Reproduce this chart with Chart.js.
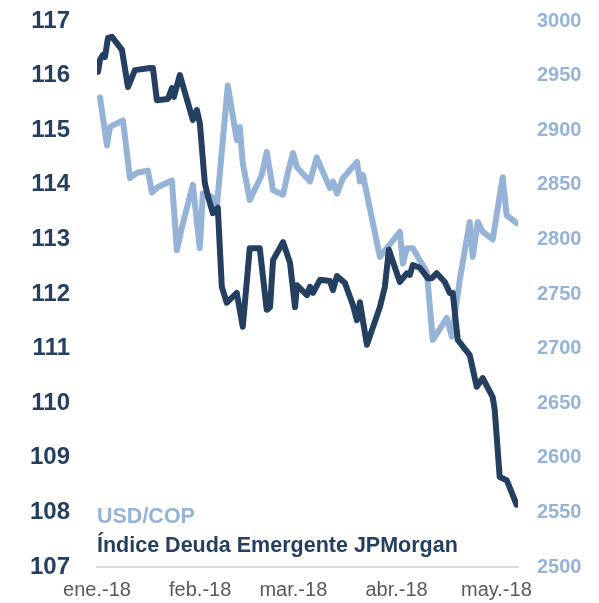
<!DOCTYPE html>
<html lang="es">
<head>
  <meta charset="UTF-8" />
  <title>USD/COP vs JPMorgan</title>
  <script src="https://cdn.jsdelivr.net/npm/chart.js"></script>
  <style>
    html, body { margin: 0; padding: 0; background: #fff; }
    #wrap { width: 599px; height: 603px; }
  </style>
</head>
<body>
  <div id="wrap"><canvas id="chart" width="599" height="603"></canvas></div>

  <script>
    // días desde el 1 de enero de 2018
    const tickDays = [0, 31, 59, 90, 120];
    const tickLabels = ['ene.-18', 'feb.-18', 'mar.-18', 'abr.-18', 'may.-18'];

    const jpmDays = [0.3, 0.9, 1.8, 2.4, 3.3, 4.5, 7.5, 9.3, 11.4, 15.9, 16.8, 18, 21.3, 22.5, 23.1, 24.9,
      28.8, 30, 30.9, 32.4, 33.3, 34.8, 36.3, 37.5, 39, 42, 43.8, 45.9, 48.9, 51, 52, 52.9, 55.9, 58,
      59.5, 60.1, 63.1, 64, 64.9, 67, 70, 70.9, 72.1, 74.5, 76.9, 78.1, 79, 81.1, 85, 86.5, 87.7, 91,
      93.1, 94, 94.9, 97, 99.4, 100.6, 102.1, 104.5, 106, 106.9, 108.4, 112, 114.1, 115.9, 118.9,
      119.5, 121, 123.1, 126.1];
    const jpmValues = [116.07, 116.29, 116.38, 116.34, 116.69, 116.71, 116.47, 115.79, 116.10, 116.14,
      116.14, 115.55, 115.57, 115.77, 115.61, 116.01, 115.19, 115.37, 115.13, 114.03, 113.80, 113.48,
      113.58, 112.13, 111.84, 112.02, 111.40, 112.84, 112.84, 111.71, 111.76, 112.62, 112.95, 112.57,
      111.76, 112.16, 111.98, 112.13, 112.02, 112.26, 112.24, 112.07, 112.33, 112.20, 111.80, 111.52,
      111.85, 111.07, 111.76, 112.13, 112.81, 112.22, 112.38, 112.35, 112.53, 112.48, 112.29, 112.29,
      112.38, 112.22, 112.02, 112.02, 111.16, 110.88, 110.30, 110.46, 110.11, 109.88, 108.65, 108.59,
      108.14];

    const copDays = [0.9, 3, 3.9, 7.8, 9.9, 12, 15.3, 16.5, 18.3, 22.5, 24, 25.5, 28.8, 30.9, 31.8, 34.5,
      36, 39.3, 42, 42.9, 43.8, 45.9, 49.5, 51, 52.9, 55.9, 57.4, 58.9, 60.1, 64, 66, 70, 70.9, 72.1,
      73.9, 78.1, 79, 79.9, 85, 91, 91.9, 93.1, 94.9, 99.1, 100.9, 105.1, 106.6, 109, 112, 112.9,
      114.4, 115.9, 118.9, 121.9, 123.1, 126.1];
    const copValues = [2930, 2886, 2903, 2909, 2856, 2861, 2863, 2843, 2848, 2854, 2790, 2811, 2850, 2792,
      2842, 2839, 2830, 2941, 2891, 2903, 2870, 2836, 2859, 2880, 2845, 2841, 2862, 2879, 2866, 2853,
      2875, 2847, 2853, 2842, 2856, 2871, 2853, 2859, 2784, 2807, 2778, 2792, 2792, 2770, 2708, 2728,
      2711, 2763, 2816, 2784, 2816, 2807, 2800, 2857, 2822, 2815];

    const navy = '#243f60';
    const lightBlue = '#95b3d7';

    const legendText = {
      id: 'legendText',
      afterDatasetsDraw(chart) {
        const ctx = chart.ctx;
        const area = chart.chartArea;
        ctx.save();
        ctx.font = 'bold 21.5px "Liberation Sans", Arial, sans-serif';
        ctx.textBaseline = 'middle';
        ctx.textAlign = 'left';
        ctx.fillStyle = lightBlue;
        ctx.fillText(chart.data.datasets[1].label, area.left, area.bottom - 50);
        ctx.fillStyle = navy;
        ctx.fillText(chart.data.datasets[0].label, area.left, area.bottom - 21);
        ctx.restore();
      }
    };

    // quitar el relleno extra que Chart.js añade por las etiquetas
    function fixWidth(w) {
      return (scale) => {
        scale.width = w;
        scale.paddingTop = 0;
        scale.paddingBottom = 0;
      };
    }

    new Chart(document.getElementById('chart'), {
      type: 'line',
      data: {
        datasets: [
          {
            label: 'Índice Deuda Emergente JPMorgan',
            data: jpmDays.map((d, i) => ({ x: d, y: jpmValues[i] })),
            yAxisID: 'y',
            borderColor: navy,
            borderWidth: 6,
            pointRadius: 0,
            tension: 0,
            borderJoinStyle: 'round',
            borderCapStyle: 'round'
          },
          {
            label: 'USD/COP',
            data: copDays.map((d, i) => ({ x: d, y: copValues[i] })),
            yAxisID: 'y2',
            borderColor: lightBlue,
            borderWidth: 6,
            pointRadius: 0,
            tension: 0,
            borderJoinStyle: 'round',
            borderCapStyle: 'round'
          }
        ]
      },
      options: {
        responsive: false,
        animation: false,
        layout: { padding: { top: 21, left: 0, right: 0, bottom: 0 } },
        plugins: { legend: { display: false }, tooltip: { enabled: false } },
        scales: {
          x: {
            type: 'linear',
            min: 0,
            max: 126.5,
            grid: { display: false, drawTicks: false },
            border: { display: true, color: '#d9d9d9', width: 2 },
            afterBuildTicks: (scale) => { scale.ticks = tickDays.map(v => ({ value: v })); },
            afterFit: (scale) => { scale.height = 36; scale.paddingLeft = 0; scale.paddingRight = 0; },
            ticks: {
              autoSkip: false,
              maxRotation: 0,
              padding: 11,
              color: '#595959',
              font: { family: '"Liberation Sans", Arial, sans-serif', size: 20 },
              callback: (v) => tickLabels[tickDays.indexOf(v)]
            }
          },
          y: {
            position: 'left',
            min: 107,
            max: 117,
            grid: { display: false, drawTicks: false },
            border: { display: false },
            afterFit: fixWidth(97),
            ticks: {
              stepSize: 1,
              padding: 27,
              color: navy,
              font: { family: '"Liberation Sans", Arial, sans-serif', size: 24, weight: 'bold' },
              callback: (v) => String(v)
            }
          },
          y2: {
            position: 'right',
            min: 2500,
            max: 3000,
            grid: { display: false, drawTicks: false },
            border: { display: false },
            afterFit: fixWidth(81),
            ticks: {
              stepSize: 50,
              padding: 19,
              color: lightBlue,
              font: { family: '"Liberation Sans", Arial, sans-serif', size: 20, weight: 'bold' },
              callback: (v) => String(v)
            }
          }
        }
      },
      plugins: [legendText]
    });
  </script>
</body>
</html>
